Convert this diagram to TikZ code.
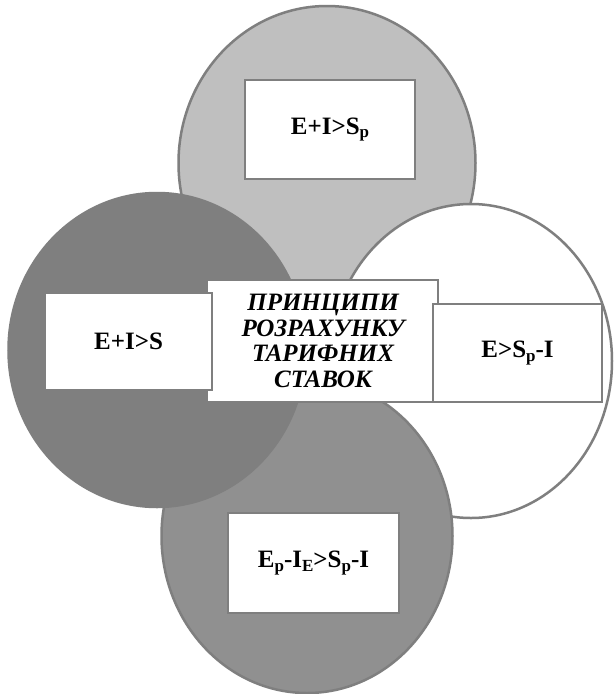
\documentclass[tikz,border=0pt]{standalone}
\usepackage{fontspec}
\setmainfont{Liberation Serif}
\usetikzlibrary{shapes.geometric}
\definecolor{bordergray}{HTML}{7F7F7F}
\definecolor{lightg}{HTML}{BFBFBF}
\definecolor{midg}{HTML}{909090}
\definecolor{darkg}{HTML}{7F7F7F}
\newcommand\lowsub[1]{\raisebox{-3.5pt}{\fontsize{17}{17}\selectfont #1}}
\begin{document}
\begin{tikzpicture}[x=1pt,y=-1pt,
  circ/.style={ellipse, draw=bordergray, line width=2.5pt, minimum height=314pt, inner sep=0pt},
  box/.style={rectangle, fill=white, draw=bordergray, line width=2.5pt, inner sep=0pt, font=\fontsize{25}{27}\selectfont\bfseries},
  centerbox/.style={rectangle, fill=white, inner sep=0pt, align=center, font=\fontsize{25}{25.7}\selectfont\bfseries\itshape},
  edge/.style={draw=bordergray, line width=2.5pt}]
\useasboundingbox (0,0) rectangle (614,694);
\fill[white] (0,0) rectangle (614,694);
\node[circ, fill=lightg, minimum width=297pt] (ctop) at (327,163) {};
\node[circ, fill=white, minimum width=282pt] (cright) at (471,361) {};
\node[circ, fill=midg, minimum width=291pt] (cbot) at (307,536) {};
\node[circ, fill=darkg, minimum width=297pt] (cleft) at (157,350) {};
\node[centerbox, minimum width=230pt, minimum height=122pt] (center) at (323,341) {ПРИНЦИПИ\\РОЗРАХУНКУ\\ТАРИФНИХ\\СТАВОК};
\draw[edge] (center.north west) -- (center.north east) -- (center.south east) -- (center.south west);
\node[box, minimum width=167pt, minimum height=97pt] (bleft) at (128.5,341.5) {E+I>S};
\node[box, minimum width=169pt, minimum height=98pt] (bright) at (517.5,353) {E>S\lowsub{p}-I};
\node[box, minimum width=170pt, minimum height=99pt] (btop) at (330,129.5) {E+I>S\lowsub{p}};
\node[box, minimum width=171pt, minimum height=100pt] (bbot) at (313.5,563) {E\lowsub{p}-I\lowsub{E}>S\lowsub{p}-I};
\end{tikzpicture}
\end{document}
